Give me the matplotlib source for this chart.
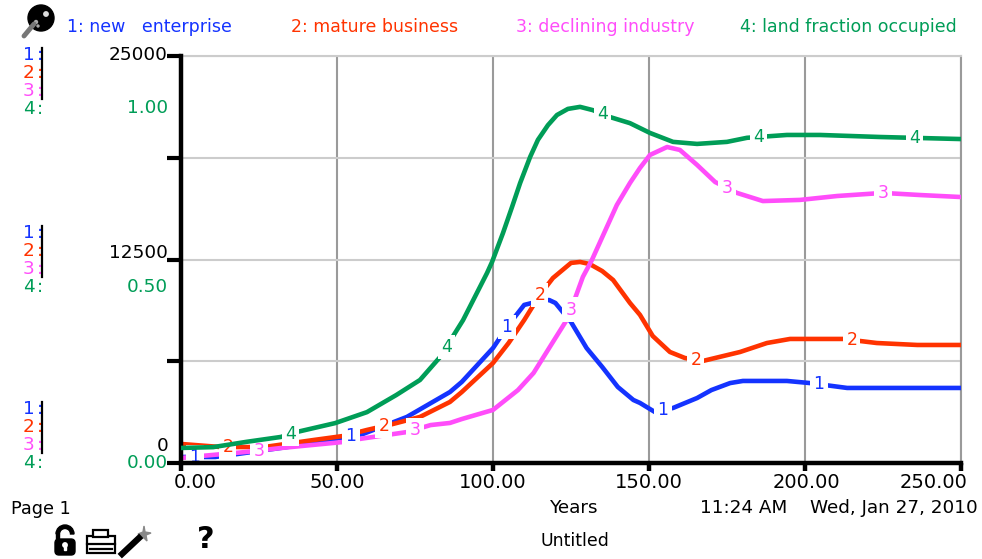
import numpy as np
import matplotlib
matplotlib.use('Agg')
from matplotlib import pyplot as plt
from matplotlib.patches import Circle, Rectangle, Wedge, Polygon, FancyBboxPatch

blue = '#1433ff'
red = '#ff3300'
pink = '#ff4dfa'
green = '#009d57'

years1 = [0, 11, 18, 34, 46.8, 58.3, 72.4, 86.2, 90, 100, 105, 110, 115, 118, 120, 125, 130, 135, 140, 145, 147.1, 151.9, 157.7, 165.4, 170, 176, 180.1, 194.2, 201.6, 213.5, 249.7]
new_enterprise = [370, 370, 550, 980, 1410, 1780, 2830, 4360, 4980, 7060, 8480, 9710, 9950, 10010, 9830, 8660, 7060, 5900, 4670, 3870, 3690, 3130, 3380, 3990, 4480, 4910, 5040, 5040, 4910, 4610, 4610]

years2 = [0, 12.8, 26.6, 42.4, 52, 59.6, 68, 76.6, 86.2, 90, 100, 105, 110, 115, 119.2, 125, 127.9, 131, 135, 138.5, 143.9, 147.1, 151.2, 156.7, 161.5, 167.3, 179.2, 187.8, 195.2, 212.2, 223, 236, 249.7]
mature_business = [1170, 980, 980, 1410, 1660, 2030, 2400, 2830, 3750, 4360, 6140, 7370, 8780, 10320, 11360, 12290, 12350, 12220, 11790, 11240, 9830, 9100, 7800, 6820, 6450, 6270, 6820, 7370, 7620, 7620, 7370, 7250, 7250]

years3 = [0, 6.4, 21, 32, 52, 57, 72.4, 80, 86.2, 90, 100, 108, 113, 119, 124, 128.8, 131.7, 136.5, 139.7, 143.9, 147.1, 150.3, 155.8, 159.9, 165.4, 171.2, 178.2, 186.5, 198.4, 210.3, 225, 236.9, 249.7]
declining_industry = [307, 430, 680, 920, 1290, 1470, 1900, 2330, 2460, 2700, 3260, 4480, 5530, 7370, 8900, 11430, 12470, 14500, 15850, 17200, 18120, 18920, 19410, 19230, 18310, 17260, 16590, 16090, 16160, 16400, 16590, 16460, 16340]

years4 = [0, 10.3, 21, 32, 37, 49.4, 59.6, 69, 76.6, 83, 90.4, 98.1, 99.7, 103.2, 106.1, 108.7, 111.9, 114.4, 117.6, 120.5, 124, 127.9, 132, 137.5, 143.9, 150.3, 157.7, 165.4, 175, 181.4, 194.2, 204.8, 224, 249.7]
land_fraction = [0.037, 0.039, 0.052, 0.064, 0.076, 0.098, 0.125, 0.167, 0.204, 0.26, 0.351, 0.467, 0.494, 0.565, 0.629, 0.688, 0.752, 0.794, 0.83, 0.855, 0.87, 0.875, 0.867, 0.85, 0.835, 0.811, 0.789, 0.784, 0.789, 0.799, 0.806, 0.806, 0.801, 0.796]

# where the little numbers sit on each curve
label_years1 = [4.5, 54.5, 104.5, 154.5, 204.5]
label_years2 = [15, 65, 115, 165, 215]
label_years3 = [25, 75, 125, 175, 225]
label_years4 = [35, 85, 135, 185, 235]

x_ticks = [0, 50, 100, 150, 200, 250]
x_tick_labels = ['0.00', '50.00', '100.00', '150.00', '200.00', '250.00']
x_label_shift = [14, 0, 0, 0, 1, -27]
y_ticks = [0, 6250, 12500, 18750, 25000]

legend_names = ['1: new   enterprise', '2: mature business', '3: declining industry', '4: land fraction occupied']
legend_x = [67, 291, 516, 740]
colors = [blue, red, pink, green]

plt.rcParams['font.family'] = ['DejaVu Sans']
fs = 12.5
fs_tick = 13.3
fs_foot = 13.2

fig = plt.figure(figsize=(9.82, 5.59), dpi=100)
ax = fig.add_axes([181 / 982, (559 - 463) / 559, 780 / 982, 407 / 559])
ax.set_xlim(0, 250)
ax.set_ylim(0, 25000)
ax2 = ax.twinx()
ax2.set_ylim(0, 1)
ax2.set_yticks([])
for s in ax2.spines.values():
    s.set_visible(False)

ax.set_xticks(x_ticks)
ax.set_xticklabels([])
ax.set_yticks(y_ticks)
ax.set_yticklabels([])
ax.tick_params(axis='x', length=6, width=3.2, color='black')
ax.tick_params(axis='y', length=10, width=3, color='black')
ax.grid(axis='x', color='#9a9a9a', lw=1.5)
ax.grid(axis='y', color='#cccccc', lw=1.5)
ax.set_axisbelow(True)
for name in ['top', 'right']:
    ax.spines[name].set_color('#cccccc' if name == 'top' else '#9a9a9a')
    ax.spines[name].set_linewidth(1.5)
for name in ['left', 'bottom']:
    ax.spines[name].set_linewidth(3.2)
ax.spines['left'].set_zorder(9)
ax.spines['bottom'].set_zorder(9)

for tick, lab, shift in zip(x_ticks, x_tick_labels, x_label_shift):
    ax.annotate(lab, xy=(tick, 0), xytext=(shift, -20), textcoords='offset pixels', fontsize=14,
                ha='center', va='center', annotation_clip=False)


def number_labels(axis, xs, ys, label_years, text, color):
    for yr in label_years:
        axis.text(yr, np.interp(yr, xs, ys), text, color=color, fontsize=fs, ha='center', va='center',
                  zorder=8, bbox=dict(facecolor='white', edgecolor='none', pad=2.2))


ax.plot(years1, new_enterprise, color=blue, lw=3.3, zorder=3)
ax.plot(years2, mature_business, color=red, lw=3.3, zorder=3)
ax.plot(years3, declining_industry, color=pink, lw=3.3, zorder=3)
ax2.plot(years4, land_fraction, color=green, lw=3.3, zorder=3)
number_labels(ax, years1, new_enterprise, label_years1, '1', blue)
number_labels(ax, years2, mature_business, label_years2, '2', red)
number_labels(ax, years3, declining_industry, label_years3, '3', pink)
number_labels(ax2, years4, land_fraction, label_years4, '4', green)


def left_label(axis, text, value, dy, color):
    axis.annotate(text, xy=(0, value), xytext=(-13, dy), textcoords='offset pixels', color=color,
                  fontsize=fs_tick, ha='right', va='center', annotation_clip=False)


left_label(ax, '25000', 25000, 1, 'black')
left_label(ax, '12500', 12500, 7, 'black')
left_label(ax, '0', 0, 17, 'black')
left_label(ax2, '1.00', 1, -52, green)
left_label(ax2, '0.50', 0.5, -27, green)
left_label(ax2, '0.00', 0, 0, green)

# page furniture, in pixels of the picture
pg = fig.add_axes([0, 0, 1, 1], zorder=10)
pg.set_xlim(0, 982)
pg.set_ylim(559, 0)
pg.axis('off')
pg.patch.set_alpha(0)

for name, x, c in zip(legend_names, legend_x, colors):
    pg.text(x, 27, name, color=c, fontsize=fs, va='center')

for top in [55, 233, 409]:
    for i, c in enumerate(colors):
        y = top + i * 18
        pg.text(23, y, str(i + 1), color=c, fontsize=fs_tick, ha='left', va='center')
        pg.text(37, y, ':', color=c, fontsize=fs_tick, ha='left', va='center')
    pg.plot([42, 42], [top - 7, top + 44], color='black', lw=1.6)

pg.text(11, 509, 'Page 1', fontsize=12.7, va='center')
pg.text(574, 508, 'Years', fontsize=fs_foot, ha='center', va='center')
pg.text(744, 508, '11:24 AM', fontsize=fs_foot, ha='center', va='center')
pg.text(894, 508, 'Wed, Jan 27, 2010', fontsize=fs_foot, ha='center', va='center')
pg.text(575, 541, 'Untitled', fontsize=12.5, ha='center', va='center')
pg.text(206, 540, '?', fontsize=22, fontweight='bold', ha='center', va='center')

# magnifier
pg.plot([24, 34], [36, 24], color='#777777', lw=3.5, solid_capstyle='round')
pg.add_patch(Circle((41, 18), 13, color='black'))
pg.add_patch(Circle((46, 14), 2.2, color='#dddddd'))
pg.add_patch(Circle((36, 22), 1.5, color='#aaaaaa'))
pg.add_patch(Circle((38, 26), 1, color='#aaaaaa'))
# lock
pg.add_patch(Wedge((65, 534), 9, 180, 360, width=3.5, color='black'))
pg.add_patch(Rectangle((56, 534), 3.5, 6, color='black'))
pg.add_patch(FancyBboxPatch((55, 539), 20, 16, boxstyle='round,pad=0,rounding_size=4', color='black'))
pg.add_patch(Circle((65, 545), 2.2, color='white'))
pg.add_patch(Rectangle((64.2, 545), 1.6, 5, color='white'))
# printer
pg.add_patch(Rectangle((87, 536), 28, 17, fc='white', ec='black', lw=1.6))
pg.add_patch(Rectangle((93, 530), 15, 7, fc='white', ec='black', lw=1.6))
pg.plot([87, 115], [544, 544], color='black', lw=1.6)
pg.plot([90, 112], [549, 549], color='black', lw=1.6)
# wand
pg.plot([122, 139], [554, 538], color='black', lw=4.5)
pg.add_patch(Polygon([[144, 526], [145, 532], [151, 533], [146, 535], [147, 541], [143, 537], [138, 534], [143, 532]], color='#888888'))

fig.savefig('out.png', dpi=100)
